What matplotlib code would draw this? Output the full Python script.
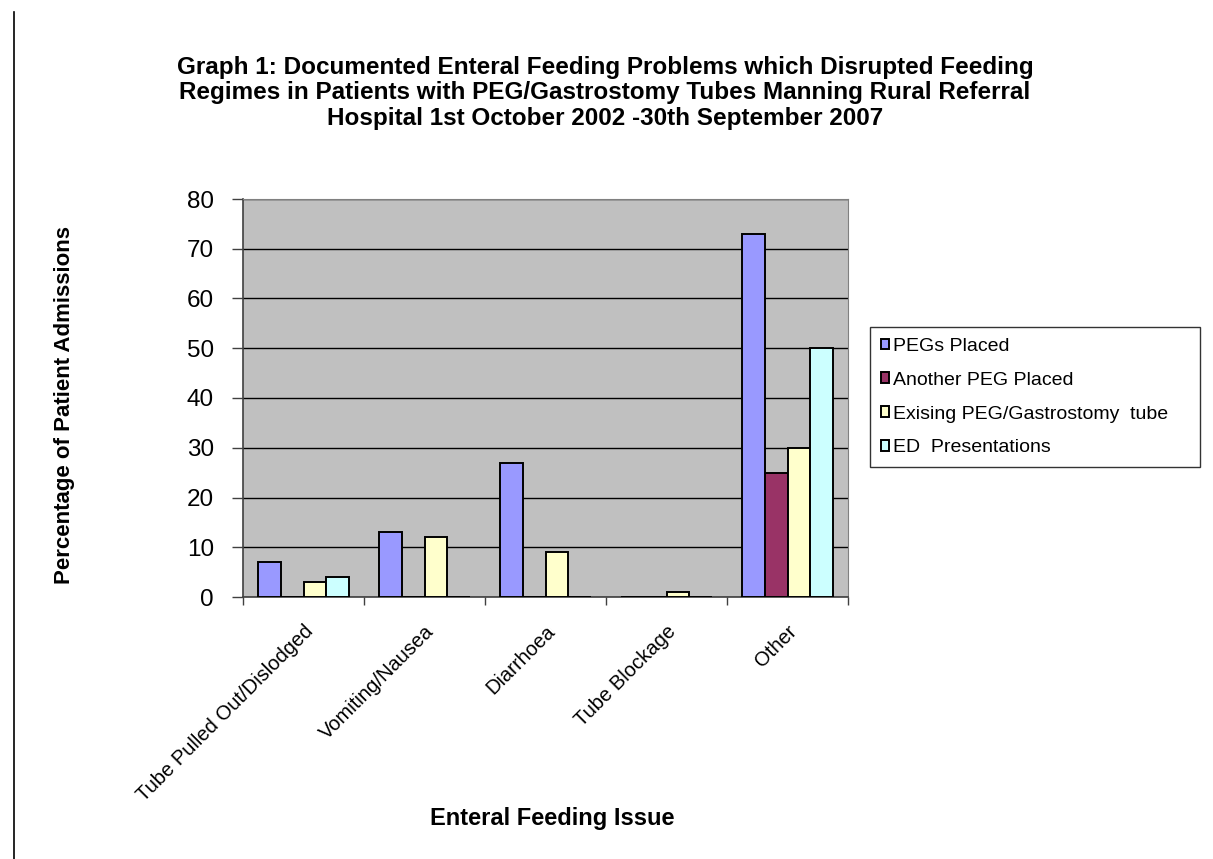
import numpy as np
import matplotlib
matplotlib.use("Agg")
import matplotlib.pyplot as plt
from matplotlib.lines import Line2D

plt.rcParams['font.family'] = ['Liberation Sans', 'DejaVu Sans']

# data
categories = ["Tube Pulled Out/Dislodged", "Vomiting/Nausea", "Diarrhoea",
              "Tube Blockage", "Other"]
series_names = ["PEGs Placed", "Another PEG Placed",
                "Exising PEG/Gastrostomy  tube", "ED  Presentations"]
pegs_placed = [7, 13, 27, 0, 73]
another_peg = [0, 0, 0, 0, 25]
existing_tube = [3, 12, 9, 1, 30]
ed_presentations = [4, 0, 0, 0, 50]
yticks = [0, 10, 20, 30, 40, 50, 60, 70, 80]

colors = ["#9999FF", "#993366", "#FFFFCC", "#CCFFFF"]

fig = plt.figure(figsize=(12.13, 8.59), dpi=100)
W, H = 1213, 859
ax = fig.add_axes([243 / W, 1 - 597 / H, (848 - 243) / W, (597 - 199) / H])
ax.set_facecolor("#C0C0C0")

x = np.arange(len(categories))
w = 0.186
all_series = [pegs_placed, another_peg, existing_tube, ed_presentations]
for i, (vals, name, c) in enumerate(zip(all_series, series_names, colors)):
    ax.bar(x + (i - 1.5) * w, vals, width=w, color=c, edgecolor="black",
           linewidth=1.4, label=name, zorder=3)

ax.set_xlim(-0.5, len(categories) - 0.5)
ax.set_ylim(0, 80)
ax.set_yticks(yticks)
ax.yaxis.grid(True, color="black", linewidth=1.0, zorder=1)
ax.set_axisbelow(True)
ax.tick_params(axis="y", labelsize=17.5, length=8, width=1, pad=13,
               color="#404040")
ax.set_xticks(np.arange(len(categories) + 1) - 0.5, minor=False)
ax.set_xticklabels([])
ax.tick_params(axis="x", length=6, width=1, color="#404040")
ax.set_xticks(x, minor=True)
ax.set_xticklabels(categories, minor=True, rotation=45, ha="right",
                   rotation_mode="anchor", fontsize=14.5)
ax.tick_params(axis="x", which="minor", length=0, pad=18)

for s in ["top", "right"]:
    ax.spines[s].set_color("#808080")
for s in ["left", "bottom"]:
    ax.spines[s].set_color("#404040")
    ax.spines[s].set_linewidth(1.2)

fig.text(65 / W, 1 - 405 / H, "Percentage of Patient Admissions",
         fontsize=16, fontweight="bold", rotation=90, ha="center",
         va="center")
fig.text(552 / W, 1 - 818 / H, "Enteral Feeding Issue", fontsize=17,
         fontweight="bold", ha="center", va="center")

fig.text(605 / W, 1 - 93 / H,
         "Graph 1: Documented Enteral Feeding Problems which Disrupted Feeding\n"
         "Regimes in Patients with PEG/Gastrostomy Tubes Manning Rural Referral\n"
         "Hospital 1st October 2002 -30th September 2007",
         fontsize=17.5, fontweight="bold", ha="center", va="center",
         linespacing=1.15)

leg = fig.legend(loc="upper left",
                 bbox_to_anchor=(870 / W, 1 - 467 / H, 330 / W, 140 / H),
                 mode="expand", fontsize=14, frameon=True, fancybox=False,
                 handlelength=0.45, handleheight=0.45, handletextpad=0.2,
                 labelspacing=0.87, borderpad=0.55, borderaxespad=0)
leg.get_frame().set_edgecolor("black")
leg.get_frame().set_linewidth(1.0)

fig.add_artist(Line2D([13.5 / W, 13.5 / W], [0, 1 - 12 / H], color="black",
                      linewidth=1.2))

fig.savefig("out.png", dpi=100)
